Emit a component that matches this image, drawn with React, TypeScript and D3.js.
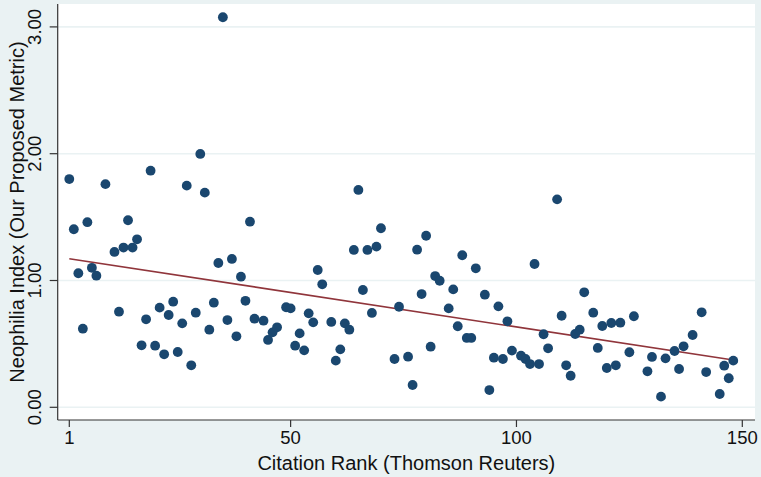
import React from "react";
import * as d3 from "d3";

// Citation rank (x) and Neophilia Index (y)
const ranks: number[] = [
  1, 2, 3, 4, 5, 6, 7, 9, 11, 12, 13, 14, 15, 16, 17, 18, 19, 20, 21, 22, 23, 24, 25,
  26, 27, 28, 29, 30, 31, 32, 33, 34, 35, 36, 37, 38, 39, 40, 41, 42, 44, 45, 46, 47,
  49, 50, 51, 52, 53, 54, 55, 56, 57, 59, 60, 61, 62, 63, 64, 65, 66, 67, 68, 69, 70,
  73, 74, 76, 77, 78, 79, 80, 81, 82, 83, 85, 86, 87, 88, 89, 90, 91, 93, 94, 95, 96,
  97, 98, 99, 101, 102, 103, 104, 105, 106, 107, 109, 110, 111, 112, 113, 114, 115,
  117, 118, 119, 120, 121, 122, 123, 125, 126, 129, 130, 132, 133, 135, 136, 137, 139,
  141, 142, 145, 146, 147, 148,
];
const neophilia: number[] = [
  1.8, 1.404, 1.057, 0.62, 1.46, 1.1, 1.038, 1.76, 1.225, 0.754, 1.26, 1.475, 1.26, 1.325,
  0.489, 0.694, 1.866, 0.486, 0.786, 0.418, 0.728, 0.833, 0.436,
  0.662, 1.748, 0.331, 0.746, 1.998, 1.693, 0.612, 0.825, 1.138, 3.076, 0.688, 1.17, 0.56,
  1.03, 0.84, 1.464, 0.699, 0.683, 0.531, 0.591, 0.631,
  0.789, 0.78, 0.486, 0.583, 0.449, 0.741, 0.67, 1.083, 0.97, 0.673, 0.368, 0.457, 0.662,
  0.612, 1.241, 1.714, 0.925, 1.241, 0.744, 1.267, 1.412,
  0.381, 0.793, 0.399, 0.176, 1.243, 0.893, 1.353, 0.478, 1.035, 0.998, 0.78, 0.93, 0.639,
  1.199, 0.547, 0.547, 1.096, 0.888, 0.136, 0.391, 0.796,
  0.381, 0.678, 0.447, 0.407, 0.381, 0.341, 1.13, 0.341, 0.576, 0.465, 1.64, 0.722, 0.331,
  0.249, 0.578, 0.612, 0.907,
  0.746, 0.468, 0.641, 0.31, 0.665, 0.331, 0.667, 0.434, 0.718, 0.284, 0.397, 0.084, 0.386,
  0.444, 0.302, 0.481, 0.57,
  0.749, 0.278, 0.105, 0.328, 0.229, 0.368,
];

// Fitted line end points
const fitX: number[] = [1, 148];
const fitY: number[] = [1.172, 0.373];

const xTicks: number[] = [1, 50, 100, 150];
const yTicks: number[] = [0, 1, 2, 3];
const xTitle = "Citation Rank (Thomson Reuters)";
const yTitle = "Neophilia Index (Our Proposed Metric)";

const W = 761;
const H = 477;
const FONT = "'Liberation Sans', Arial, Helvetica, sans-serif";

export default function App() {
  const plotLeft = 57.7;
  const plotRight = 755;
  const plotTop = 4;
  const plotBottom = 420;

  const x = d3.scaleLinear().domain([1, 150]).range([69.3, 742.3]);
  const y = d3.scaleLinear().domain([0, 3]).range([407.3, 26.9]);

  const fitData = fitX.map((v, i) => [v, fitY[i]] as [number, number]);
  const line = d3
    .line<[number, number]>()
    .x((d) => x(d[0]))
    .y((d) => y(d[1]));

  const bg = "#eaf2f3";

  return (
    <svg
      width={W}
      height={H}
      style={{ position: "fixed", left: 0, top: 0, display: "block" }}
      fontFamily={FONT}
    >
      <rect x={0} y={0} width={W} height={H} fill={bg} />
      <rect
        x={plotLeft}
        y={plotTop}
        width={plotRight - plotLeft}
        height={plotBottom - plotTop}
        fill="#ffffff"
      />
      {yTicks.map((t) => (
        <line
          key={"g" + t}
          x1={plotLeft}
          x2={plotRight}
          y1={y(t)}
          y2={y(t)}
          stroke={bg}
          strokeWidth={1.6}
        />
      ))}
      {/* fitted line */}
      <path d={line(fitData) || ""} fill="none" stroke="#90353b" strokeWidth={1.6} />
      {/* points */}
      {ranks.map((r, i) => (
        <circle
          key={"p" + i}
          cx={x(r)}
          cy={y(neophilia[i])}
          r={4.9}
          fill="#1a476f"
        />
      ))}
      {/* axes */}
      <line
        x1={plotLeft}
        x2={plotLeft}
        y1={plotTop}
        y2={plotBottom}
        stroke="#333"
        strokeWidth={1.2}
      />
      <line
        x1={plotLeft}
        x2={plotRight}
        y1={plotBottom}
        y2={plotBottom}
        stroke="#333"
        strokeWidth={1.2}
      />
      {yTicks.map((t) => (
        <g key={"yt" + t}>
          <line
            x1={plotLeft - 8}
            x2={plotLeft}
            y1={y(t)}
            y2={y(t)}
            stroke="#333"
            strokeWidth={1.2}
          />
          <text
            transform={`translate(${41},${y(t)}) rotate(-90)`}
            textAnchor="middle"
            fontSize={18.5}
            fill="#111"
          >
            {d3.format(".2f")(t)}
          </text>
        </g>
      ))}
      {xTicks.map((t) => (
        <g key={"xt" + t}>
          <line
            x1={x(t)}
            x2={x(t)}
            y1={plotBottom}
            y2={plotBottom + 7}
            stroke="#333"
            strokeWidth={1.2}
          />
          <text x={x(t)} y={444} textAnchor="middle" fontSize={18.5} fill="#111">
            {t}
          </text>
        </g>
      ))}
      <text
        x={(plotLeft + plotRight) / 2}
        y={470}
        textAnchor="middle"
        fontSize={20}
        fill="#111"
      >
        {xTitle}
      </text>
      <text
        transform={`translate(${24},${(plotTop + plotBottom) / 2}) rotate(-90)`}
        textAnchor="middle"
        fontSize={20}
        fill="#111"
      >
        {yTitle}
      </text>
    </svg>
  );
}
